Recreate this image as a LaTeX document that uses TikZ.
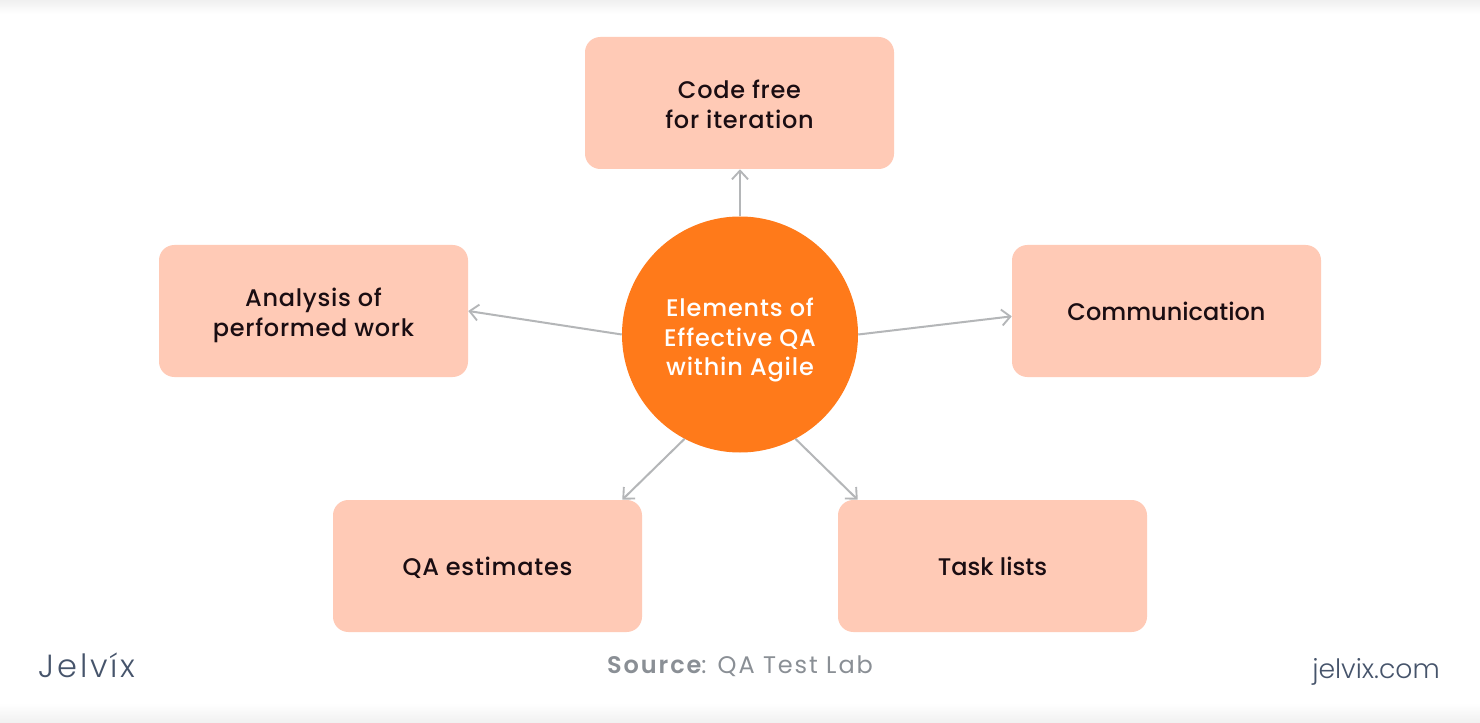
\documentclass[tikz,border=0pt]{standalone}
\usepackage{fontspec}
\setmainfont{Poppins Medium}
\newfontfamily\lightf{Poppins Light}
\newfontfamily\logof[LetterSpace=9]{Poppins Light}
\newfontfamily\srcf[LetterSpace=8]{Poppins}
\newfontfamily\srcb[LetterSpace=8]{Poppins SemiBold}
\newfontfamily\widef[LetterSpace=3]{Poppins Medium}
\newfontfamily\hubf[LetterSpace=3.5]{Poppins Medium}
\newcommand\topgap[1]{\rule{0pt}{#1pt}}
\usetikzlibrary{arrows.meta,calc}
\definecolor{boxfill}{HTML}{FFCAB6}
\definecolor{hub}{HTML}{FF7A1A}
\definecolor{linkc}{HTML}{B4B6B8}
\definecolor{inkc}{HTML}{1A0D12}
\definecolor{brandc}{HTML}{46546B}
\definecolor{srcc}{HTML}{8A8F95}
\definecolor{edgec}{HTML}{F0F0F0}
\tikzset{
  x=0.75pt,y=-0.75pt,
  itembox/.style={draw=none,fill=boxfill,rounded corners=11.5pt,minimum width=309*0.75pt,minimum height=132*0.75pt,inner sep=0pt,align=center,text=inkc,font=\widef\fontsize{18}{22.3}\selectfont},
  plainbox/.style={itembox,font=\fontsize{18}{22.3}\selectfont},
  hubnode/.style={circle,fill=hub,minimum size=236*0.75pt,inner sep=0pt,align=center,text=white,font=\hubf\fontsize{18}{22.3}\selectfont},
  link/.style={draw=linkc,line width=1.5pt,-{Straight Barb[length=6.5pt,width=12pt,line width=1.4pt]}},
}
\begin{document}
\begin{tikzpicture}
\useasboundingbox (0,0) rectangle (1480,723);
\fill[white] (0,0) rectangle (1480,723);
\shade[top color=edgec,bottom color=white] (0,0) rectangle (1480,14);
\shade[top color=white,bottom color=edgec] (0,703) rectangle (1480,723);
\node[itembox] (top) at (739.5,103) {\topgap{16.3}Code free\\for iteration};
\node[itembox] (lft) at (313.5,311) {\topgap{20.8}Analysis of\\performed work};
\node[plainbox] (rgt) at (1166.5,311) {Communication};
\node[itembox] (bl) at (487.5,566) {\topgap{16.3}QA estimates};
\node[plainbox] (br) at (992.5,566) {Task lists};
\node[hubnode] (c) at (740,334.5) {\topgap{22.3}Elements of\\Effective QA\\within Agile};
\draw[link] (c.north) -- (c.north |- top.south);
\draw[link] (c.180) -- (lft.east);
\draw[link] (c.0) -- ([yshift=-4pt]rgt.west);
\draw[link] (c.242) -- ([xshift=-15pt]bl.north east);
\draw[link] (c.298) -- ([xshift=15pt]br.north west);
\node[text=brandc,font=\logof\fontsize{24}{28}\selectfont,anchor=center] (logo) at (87,665) {Jelv\'{\i}x};
\node[text=srcc,font=\srcf\fontsize{18}{22}\selectfont,anchor=center] (src) at (740,666) {{\srcb Source}: QA Test Lab};
\node[text=brandc,font=\lightf\fontsize{20}{24}\selectfont,anchor=center] (site) at (1376,672) {jelvix.com};
\end{tikzpicture}
\end{document}
